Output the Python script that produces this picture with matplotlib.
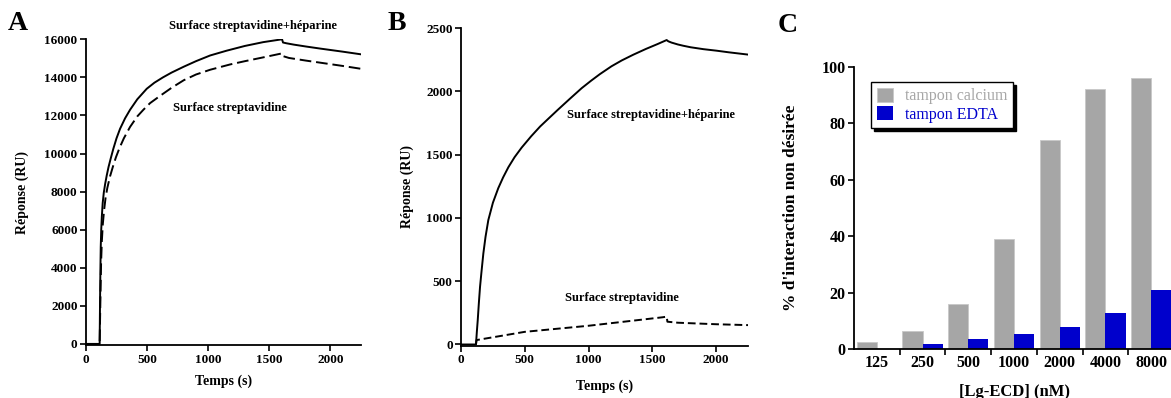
import matplotlib
matplotlib.use('Agg')
import matplotlib.pyplot as plt
import numpy as np

plt.rcParams['font.family'] = ['Liberation Serif', 'DejaVu Serif']
plt.rcParams['font.weight'] = 'bold'
plt.rcParams['axes.labelweight'] = 'bold'

# panel A : sensorgrammes (temps en s, reponse en RU)
t_a_hep = [0, 112, 115, 118, 121, 125, 130, 137, 146, 157, 170, 185, 203, 224, 250, 279, 320, 361, 420, 497,
           560, 630, 700, 800, 900, 1016, 1150, 1300, 1450, 1604, 1612, 1640, 1700, 1800, 1918, 2100, 2250]
r_a_hep = [0, 0, 2100, 3800, 5100, 6000, 6700, 7400, 7950, 8400, 8850, 9300, 9750, 10250, 10800, 11300, 11850, 12300, 12850, 13400,
           13720, 14000, 14250, 14560, 14850, 15150, 15400, 15650, 15850, 16000, 15830, 15790, 15720, 15620, 15510, 15350, 15210]
t_a_str = [0, 112, 116, 120, 124, 130, 138, 148, 160, 175, 197, 220, 245, 275, 310, 361, 420, 470, 525, 600,
           700, 800, 900, 1016, 1180, 1300, 1450, 1604, 1610, 1630, 1660, 1800, 1918, 2100, 2250]
r_a_str = [0, 0, 1500, 3000, 4300, 5400, 6300, 7000, 7650, 8200, 8800, 9300, 9800, 10300, 10800, 11400, 11950, 12300, 12650, 13000,
           13450, 13850, 14150, 14400, 14680, 14850, 15050, 15260, 15120, 15080, 15020, 14880, 14770, 14600, 14450]

# panel B
t_b_hep = [0, 117, 120, 124, 131, 140, 149, 160, 175, 192, 214, 250, 292, 330, 371, 420, 475, 550, 620, 684,
           760, 850, 946, 1020, 1089, 1180, 1260, 1350, 1450, 1540, 1612, 1625, 1650, 1700, 1742, 1800, 1900, 2003, 2100, 2251]
r_b_hep = [0, 0, 40, 100, 192, 330, 455, 570, 719, 850, 983, 1120, 1235, 1320, 1400, 1480, 1555, 1645, 1722, 1783,
           1855, 1938, 2025, 2084, 2136, 2198, 2244, 2289, 2335, 2373, 2405, 2395, 2385, 2370, 2360, 2348, 2333, 2321, 2308, 2290]
t_b_str = [117, 122, 500, 1000, 1580, 1612, 1618, 1700, 2000, 2250]
r_b_str = [0, 35, 100, 148, 215, 220, 180, 172, 160, 153]

# panel C : % d'interaction non desiree
conc = ['125', '250', '500', '1000', '2000', '4000', '8000']
calcium = [2.5, 6.5, 16, 39, 74, 92, 96]
edta = [0, 2, 3.8, 5.3, 8, 13, 21]

fig = plt.figure(figsize=(11.71, 3.98), dpi=100)

def style(ax):
    ax.spines['top'].set_visible(False)
    ax.spines['right'].set_visible(False)
    for s in ['left', 'bottom']:
        ax.spines[s].set_linewidth(1.3)
    ax.tick_params(direction='out', length=4, width=1.2, pad=2)

# ---- A
axA = fig.add_axes([0.0734, 0.1320, 0.2349, 0.7693])
axA.plot(t_a_hep, r_a_hep, color='black', lw=1.4)
axA.plot(t_a_str, r_a_str, color='black', lw=1.4, dashes=(6, 2.5))
axA.set_xlim(0, 2250)
axA.set_ylim(-80, 16000)
axA.set_xticks([0, 500, 1000, 1500, 2000])
axA.set_yticks(range(0, 16001, 2000))
style(axA)
axA.tick_params(labelsize=9.5)
axA.set_xlabel('Temps (s)', fontsize=10, labelpad=6)
axA.set_ylabel('Réponse (RU)', fontsize=10, labelpad=11)
axA.text(1367, 16700, 'Surface streptavidine+héparine', fontsize=9, ha='center', va='center', clip_on=False)
axA.text(1178, 12380, 'Surface streptavidine', fontsize=9, ha='center', va='center')

# ---- B
axB = fig.add_axes([0.3937, 0.1319, 0.2451, 0.7977])
axB.plot(t_b_hep, r_b_hep, color='black', lw=1.4)
axB.plot(t_b_str, r_b_str, color='black', lw=1.4, dashes=(4, 2))
axB.set_xlim(0, 2250)
axB.set_ylim(-8, 2500)
axB.set_xticks([0, 500, 1000, 1500, 2000])
axB.set_yticks([0, 500, 1000, 1500, 2000, 2500])
style(axB)
axB.tick_params(labelsize=9.5)
axB.set_xlabel('Temps (s)', fontsize=10, labelpad=10)
axB.set_ylabel('Réponse (RU)', fontsize=10, labelpad=9)
axB.text(1487, 1813, 'Surface streptavidine+héparine', fontsize=9, ha='center', va='center')
axB.text(1258, 364, 'Surface streptavidine', fontsize=9, ha='center', va='center')

# ---- C
axC = fig.add_axes([0.7293, 0.1219, 0.2733, 0.7106])
x = np.arange(len(conc))
axC.bar(x + 0.28, calcium, width=0.44, color='#a6a6a6', edgecolor='#c8c8c8', lw=0.6, label='tampon calcium')
axC.bar(x + 0.72, edta, width=0.44, color='#0000cc', label='tampon EDTA')
axC.set_xlim(0, 7)
axC.set_ylim(0, 100)
axC.set_yticks([0, 20, 40, 60, 80, 100])
axC.set_xticks(x + 0.5)
axC.set_xticklabels(conc)
axC.set_xticks(x[1:], minor=True)
style(axC)
axC.tick_params(axis='x', which='major', length=0, labelsize=11.5, pad=4)
axC.tick_params(axis='x', which='minor', length=4, width=1.2)
axC.tick_params(axis='y', labelsize=11.5)
axC.set_xlabel('[Lg-ECD] (nM)', fontsize=12, labelpad=9)
axC.set_ylabel("% d'interaction non désirée", fontsize=12.5, labelpad=16)
leg = axC.legend(loc='upper left', bbox_to_anchor=(0.053, 0.945),
                 prop={'weight': 'normal', 'size': 11.5},
                 fancybox=False, shadow={'color': 'black', 'alpha': 1},
                 handlelength=1.0, handleheight=1.0, handletextpad=0.8,
                 borderpad=0.35, labelspacing=0.1, borderaxespad=0)
leg.get_frame().set_edgecolor('black')
leg.get_frame().set_linewidth(1.0)
leg.get_texts()[0].set_color('#a6a6a6')
leg.get_texts()[1].set_color('#0000cc')

# lettres des panneaux
fig.text(0.007, 0.94, 'A', fontsize=20, va='center', ha='left')
fig.text(0.331, 0.94, 'B', fontsize=20, va='center', ha='left')
fig.text(0.664, 0.935, 'C', fontsize=20, va='center', ha='left')

fig.savefig('out.png', dpi=100)
